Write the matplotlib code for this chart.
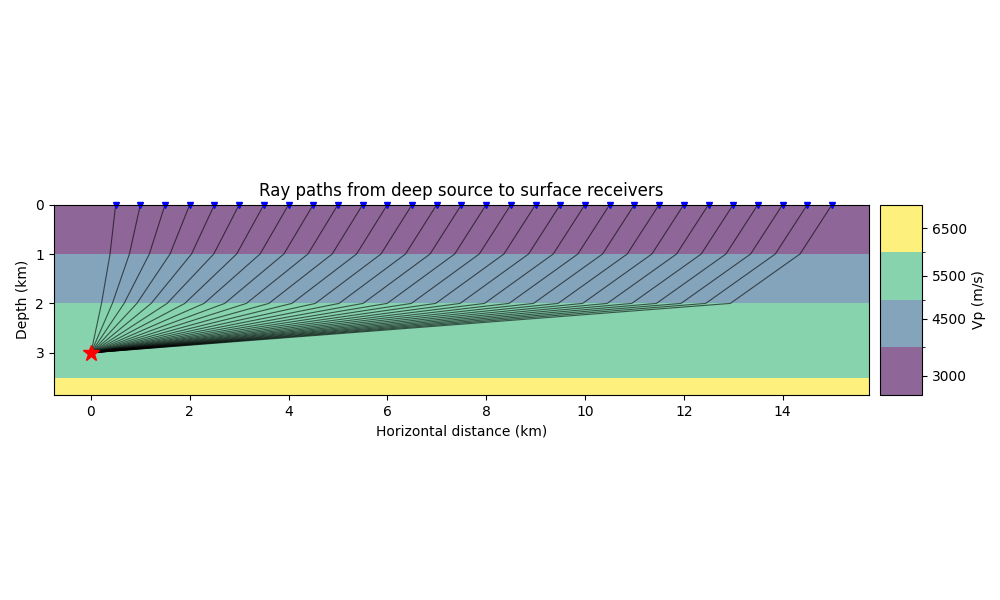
import numpy as np
import matplotlib
matplotlib.use("Agg")
import matplotlib.pyplot as plt
from matplotlib.colors import BoundaryNorm

layer_tops = [0.0, 1.0, 2.0, 3.5]
layer_bottoms = [1.0, 2.0, 3.5, 3.85]
layer_vp = [3000, 4500, 5500, 6500]
receivers_x = [0.5*i for i in range(1, 31)]
source = (0.0, 3.0)

fig = plt.figure(figsize=(10, 6), dpi=100)
ax = fig.add_axes([0.053, 0.342, 0.817, 0.317])
cax = fig.add_axes([0.880, 0.342, 0.042, 0.317])

bounds = [2500, 3750, 5000, 6000, 7000]
cmap = plt.get_cmap('viridis')
norm = BoundaryNorm(bounds, cmap.N)
zedges = np.array([0.0, 1.0, 2.0, 3.5, 3.85])
xedges = np.array([-0.75, 15.75])
V = np.array(layer_vp).reshape(-1, 1)
mesh = ax.pcolormesh(xedges, zedges, V, cmap=cmap, norm=norm, alpha=0.6, shading='flat')

# ray tracing with Snell's law through layers above source
thick = [1.0, 1.0, 1.0]  # source layer (2-3), layer 1-2, 0-1
vels = [5500, 4500, 3000]
def offsets(p):
    xs = [0.0]
    for h, v in zip(thick, vels):
        s = p*v
        xs.append(xs[-1] + h*s/np.sqrt(1-s*s))
    return xs
for xr in receivers_x:
    lo, hi = 0.0, 1.0/5500*(1-1e-12)
    for _ in range(200):
        mid = 0.5*(lo+hi)
        if offsets(mid)[-1] < xr:
            lo = mid
        else:
            hi = mid
    xs = offsets(0.5*(lo+hi))
    zs = [3.0, 2.0, 1.0, 0.0]
    ax.plot(np.array(xs)+source[0], zs, color='black', lw=0.8, alpha=0.6)

ax.plot(receivers_x, [0]*len(receivers_x), 'bv', markersize=5, clip_on=False)
ax.plot(source[0], source[1], 'r*', markersize=12)

ax.set_xlim(-0.75, 15.75)
ax.set_ylim(3.85, 0)
ax.set_aspect('equal')
ax.set_xticks([0, 2, 4, 6, 8, 10, 12, 14])
ax.set_yticks([0, 1, 2, 3])
ax.set_xlabel('Horizontal distance (km)')
ax.set_ylabel('Depth (km)')
ax.set_title('Ray paths from deep source to surface receivers')

cb = fig.colorbar(mesh, cax=cax, ticks=[3000, 4500, 5500, 6500])
cb.set_label('Vp (m/s)')
cb.solids.set_alpha(0.6)
cax.yaxis.set_ticks([3750, 5000, 6000], minor=True)
cax.tick_params(which='minor', length=2.5)

fig.savefig('out.png', dpi=100)
